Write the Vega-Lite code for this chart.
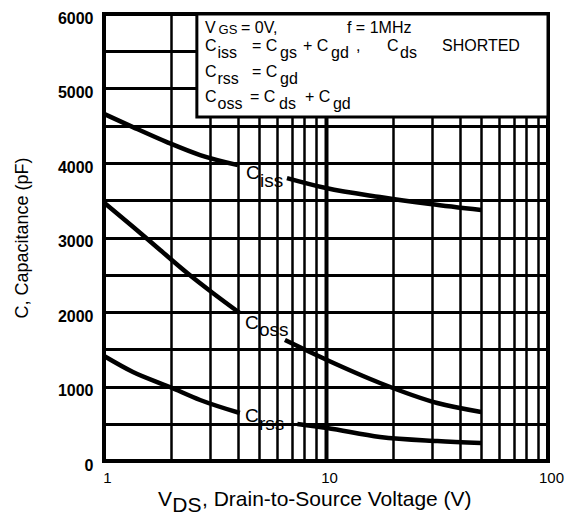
{
  "$schema": "https://vega.github.io/schema/vega-lite/v6.json",
  "width": 444,
  "height": 447,
  "autosize": "none",
  "padding": {"left": 104, "top": 14, "right": 19, "bottom": 65},
  "background": "white",
  "config": {
    "view": {"stroke": "black", "strokeWidth": 4},
    "font": "Liberation Sans",
    "text": {"font": "Liberation Sans", "color": "black"}
  },
  "datasets": {
    "curves": [
      {"v": 1, "c": 4660, "s": "Ciss-a"},
      {"v": 1.35, "c": 4482, "s": "Ciss-a"},
      {"v": 1.92, "c": 4281, "s": "Ciss-a"},
      {"v": 2.71, "c": 4107, "s": "Ciss-a"},
      {"v": 4.01, "c": 3972, "s": "Ciss-a"},
      {"v": 6.67, "c": 3798, "s": "Ciss-b"},
      {"v": 10, "c": 3664, "s": "Ciss-b"},
      {"v": 17.5, "c": 3543, "s": "Ciss-b"},
      {"v": 29.5, "c": 3449, "s": "Ciss-b"},
      {"v": 50, "c": 3368, "s": "Ciss-b"},
      {"v": 1, "c": 3470, "s": "Coss-a"},
      {"v": 1.35, "c": 3145, "s": "Coss-a"},
      {"v": 1.79, "c": 2832, "s": "Coss-a"},
      {"v": 2.37, "c": 2523, "s": "Coss-a"},
      {"v": 3.09, "c": 2255, "s": "Coss-a"},
      {"v": 4.09, "c": 1986, "s": "Coss-a"},
      {"v": 6.53, "c": 1624, "s": "Coss-b"},
      {"v": 10.1, "c": 1355, "s": "Coss-b"},
      {"v": 17.5, "c": 1047, "s": "Coss-b"},
      {"v": 31.7, "c": 778, "s": "Coss-b"},
      {"v": 50, "c": 658, "s": "Coss-b"},
      {"v": 1, "c": 1409, "s": "Crss-a"},
      {"v": 1.35, "c": 1194, "s": "Crss-a"},
      {"v": 1.98, "c": 993, "s": "Crss-a"},
      {"v": 2.71, "c": 819, "s": "Crss-a"},
      {"v": 4.09, "c": 644, "s": "Crss-a"},
      {"v": 7.43, "c": 497, "s": "Crss-b"},
      {"v": 10.1, "c": 443, "s": "Crss-b"},
      {"v": 17.5, "c": 322, "s": "Crss-b"},
      {"v": 31.7, "c": 268, "s": "Crss-b"},
      {"v": 50, "c": 242, "s": "Crss-b"}
    ],
    "box": [{"v": 2.62, "v2": 100, "c": 4617, "c2": 6000}],
    "legendText": [
      {"v": 2.851, "c": 5743, "t": "V"},
      {"v": 4.141, "c": 5743, "t": "= 0V,"},
      {"v": 12.43, "c": 5743, "t": "f = 1MHz"},
      {"v": 2.851, "c": 5502, "t": "C"},
      {"v": 3.245, "c": 5408, "t": "iss"},
      {"v": 4.642, "c": 5502, "t": "= C"},
      {"v": 6.206, "c": 5408, "t": "gs"},
      {"v": 7.877, "c": 5502, "t": "+ C"},
      {"v": 10.53, "c": 5408, "t": "gd"},
      {"v": 13.65, "c": 5502, "t": ","},
      {"v": 18.83, "c": 5502, "t": "C"},
      {"v": 21.54, "c": 5408, "t": "ds"},
      {"v": 33.3, "c": 5502, "t": "SHORTED"},
      {"v": 2.851, "c": 5153, "t": "C"},
      {"v": 3.245, "c": 5059, "t": "rss"},
      {"v": 4.642, "c": 5153, "t": "= C"},
      {"v": 6.206, "c": 5059, "t": "gd"},
      {"v": 2.851, "c": 4818, "t": "C"},
      {"v": 3.245, "c": 4724, "t": "oss"},
      {"v": 4.547, "c": 4818, "t": "= C"},
      {"v": 6.142, "c": 4724, "t": "ds"},
      {"v": 8.043, "c": 4818, "t": "+ C"},
      {"v": 10.75, "c": 4724, "t": "gd"}
    ],
    "gsText": [{"v": 3.28, "c": 5730, "t": "GS"}],
    "curveText": [
      {"v": 4.362, "c": 3785, "t": "C"},
      {"v": 5.043, "c": 3678, "t": "iss"},
      {"v": 4.317, "c": 1772, "t": "C"},
      {"v": 4.992, "c": 1678, "t": "oss"},
      {"v": 4.317, "c": 523, "t": "C"},
      {"v": 4.992, "c": 416, "t": "rss"}
    ],
    "titleText": [
      {"v": 1.751, "c": -604, "t": "V"},
      {"v": 2.03, "c": -685, "t": "DS"},
      {"v": 2.763, "c": -604, "t": ", Drain-to-Source Voltage (V)"}
    ]
  },
  "encoding": {
    "x": {
      "field": "v",
      "type": "quantitative",
      "scale": {"type": "log", "domain": [1, 100]},
      "axis": {
        "values": [1, 2, 3, 4, 5, 6, 7, 8, 9, 10, 20, 30, 40, 50, 60, 70, 80, 90, 100],
        "labelExpr": "datum.value == 1 || datum.value == 10 || datum.value == 100 ? datum.label : ''",
        "format": "d",
        "grid": true,
        "gridColor": "black",
        "gridOpacity": 1,
        "gridWidth": {"condition": {"test": "datum.value === 10", "value": 4}, "value": 2.5},
        "ticks": false,
        "domain": false,
        "labelFlush": false,
        "labelOverlap": false,
        "labelFont": "Liberation Sans",
        "labelFontSize": 15,
        "labelColor": "black",
        "labelPadding": 9,
        "labelOffset": 3,
        "title": null
      }
    },
    "y": {
      "field": "c",
      "type": "quantitative",
      "scale": {"domain": [0, 6000], "nice": false},
      "axis": {
        "values": [0, 500, 1000, 1500, 2000, 2500, 3000, 3500, 4000, 4500, 5000, 5500, 6000],
        "labelExpr": "datum.value % 1000 === 0 ? datum.label : ''",
        "format": "d",
        "grid": true,
        "gridColor": "black",
        "gridOpacity": 1,
        "gridWidth": 3,
        "ticks": false,
        "domain": false,
        "labelOverlap": false,
        "labelFont": "Liberation Sans",
        "labelFontWeight": "bold",
        "labelFontSize": 16,
        "labelColor": "black",
        "labelPadding": 11,
        "labelOffset": 4,
        "title": "C, Capacitance (pF)",
        "titleFont": "Liberation Sans",
        "titleFontSize": 18,
        "titleFontWeight": "normal",
        "titleColor": "black",
        "titlePadding": 26
      }
    }
  },
  "layer": [
    {
      "data": {"name": "box"},
      "mark": {"type": "rect", "fill": "white", "stroke": "black", "strokeWidth": 3},
      "encoding": {"x2": {"field": "v2"}, "y2": {"field": "c2"}}
    },
    {
      "data": {"name": "curves"},
      "mark": {"type": "line", "color": "black", "strokeWidth": 4.5, "interpolate": "monotone"},
      "encoding": {"detail": {"field": "s"}}
    },
    {
      "data": {"name": "legendText"},
      "mark": {"type": "text", "align": "left", "baseline": "alphabetic", "fontSize": 16, "font": "Liberation Sans", "color": "black"},
      "encoding": {"text": {"field": "t"}}
    },
    {
      "data": {"name": "gsText"},
      "mark": {"type": "text", "align": "left", "baseline": "alphabetic", "fontSize": 13, "font": "Liberation Sans", "color": "black"},
      "encoding": {"text": {"field": "t"}}
    },
    {
      "data": {"name": "curveText"},
      "mark": {"type": "text", "align": "left", "baseline": "alphabetic", "fontSize": 19, "font": "Liberation Sans", "color": "black"},
      "encoding": {"text": {"field": "t"}}
    },
    {
      "data": {"name": "titleText"},
      "mark": {"type": "text", "align": "left", "baseline": "alphabetic", "fontSize": 21, "font": "Liberation Sans", "color": "black"},
      "encoding": {"text": {"field": "t"}}
    }
  ]
}
